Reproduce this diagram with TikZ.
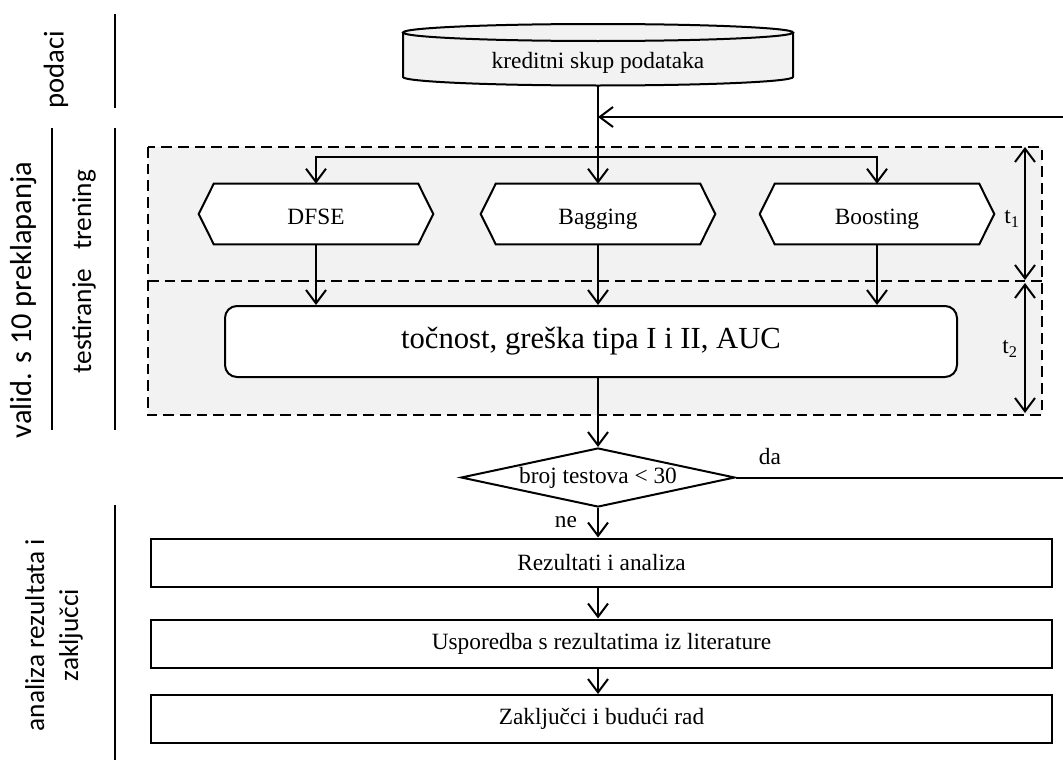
\documentclass[tikz,border=0pt]{standalone}
\usepackage{fontspec}
\setmainfont{Liberation Serif}
\newfontfamily\sidefont{Carlito}
\usetikzlibrary{arrows.meta,shapes.geometric}
\definecolor{bgg}{RGB}{242,242,242}
\pgfdeclarelayer{back}
\pgfdeclarelayer{bg}
\pgfsetlayers{back,bg,main}
\begin{document}
\begin{tikzpicture}[x=0.75pt,y=-0.75pt,
  every node/.style={inner sep=0pt, font=\fontsize{17.5}{21}\selectfont},
  ln/.style={line width=1.5pt},
  arr/.style={ln,-{Straight Barb[length=10pt,width=15pt]}},
  darr/.style={ln,{Straight Barb[length=10pt,width=15pt]}-{Straight Barb[length=10pt,width=15pt]}},
  dsh/.style={ln, dash pattern=on 8pt off 4.5pt},
  side/.style={font=\sidefont\fontsize{21}{25.5}\selectfont, rotate=90, align=center},
  low/.style={text height=17pt, text depth=2pt},
  hexn/.style={low, minimum width=175.5pt, minimum height=45pt},
  hexl/.style={ln, fill=white, line join=miter},
  box/.style={draw, ln, fill=white, minimum width=675.75pt, minimum height=36pt},
]
\useasboundingbox (0,0) rectangle (1063,760);
\clip (0,0) rectangle (1063,760);

% side labels
\node[side, font=\sidefont\fontsize{21.5}{26}\selectfont] (podaci) at (56,70) {podaci};
\node[side, font=\sidefont\fontsize{22.8}{27}\selectfont] (valid) at (24,300) {valid. s 10 preklapanja};
\node[side, font=\sidefont\fontsize{20.5}{25}\selectfont] (trening) at (84,210) {trening};
\node[side, font=\sidefont\fontsize{20.5}{25}\selectfont] (testiranje) at (84,321) {testiranje};
\node[side, font=\sidefont\fontsize{20.5}{25.5}\selectfont] (analiza) at (54,635) {analiza rezultata i\\zaključci};
\draw[ln] (115,14) -- (115,108);
\draw[ln] (52,128) -- (52,430);
\draw[ln] (115,128) -- (115,430);
\draw[ln] (115,505) -- (115,760);

% gray frame
\begin{pgfonlayer}{back}
\fill[bgg] (148,147) rectangle (1042,415);
\draw[dsh] (148,147) rectangle (1042,415);
\draw[dsh] (148,281) -- (1042,281);
\end{pgfonlayer}

% cylinder
\node[low, minimum width=292.5pt, minimum height=41.25pt] (cyl) at (598,58) {kreditni skup podataka};
\begin{pgfonlayer}{bg}
\fill[bgg] (403,32.5) -- (403,77) arc[start angle=180,end angle=360,x radius=146.25pt,y radius=6.375pt] -- (793,32.5) -- cycle;
\draw[ln] (403,32.5) -- (403,77) arc[start angle=180,end angle=360,x radius=146.25pt,y radius=6.375pt] -- (793,32.5);
\draw[ln, fill=bgg] (598,32.5) ellipse [x radius=146.25pt, y radius=6.375pt];
\end{pgfonlayer}

% hexagons
\node[hexn] (dfse) at (316,214) {DFSE};
\node[hexn] (bag) at (598,214) {Bagging};
\node[hexn] (boost) at (877,214) {Boosting};
\begin{pgfonlayer}{bg}
\foreach \n in {dfse,bag,boost}{
  \draw[hexl] (\n.west) -- ([xshift=11.25pt]\n.north west) -- ([xshift=-11.25pt]\n.north east)
    -- (\n.east) -- ([xshift=-11.25pt]\n.south east) -- ([xshift=11.25pt]\n.south west) -- cycle;
}
\end{pgfonlayer}

% results box
\node[draw, ln, fill=white, rounded corners=9pt, minimum width=549pt, minimum height=53.25pt,
      font=\fontsize{23}{27}\selectfont] (acc) at (591,341.5) {točnost, greška tipa I i II, AUC};

% t arrows
\coordinate (t1a) at (1025,147);
\coordinate (t1b) at (1025,280);
\coordinate (t2a) at (1025,283);
\coordinate (t2b) at (1025,413);
\draw[darr] (t1a) -- (t1b);
\draw[darr] (t2a) -- (t2b);
\node (t1) at (1012,219) {t\textsubscript{1}};
\node (t2) at (1010,349) {t\textsubscript{2}};

% decision
\node[diamond, draw, ln, fill=white, minimum width=205.5pt, minimum height=44.25pt, aspect=4.6] (dia) at (598,477.5) {broj testova < 30};
\node (da) at (770,457) {da};
\node (ne) at (566,522) {ne};

% final boxes
\node[box] (b1) at (601.5,562.5) {Rezultati i analiza};
\node[box] (b2) at (601.5,643.5) {Usporedba s rezultatima iz literature};
\node[box] (b3) at (601.5,719) {Zaključci i budući rad};

% connectors
\coordinate (bus) at (598,157);
\draw[arr] (cyl.south) -- (bag.north);
\draw[arr] (bus) -| (dfse.north);
\draw[arr] (bus) -| (boost.north);
\draw[arr] (dfse.south) -- (dfse.south |- acc.north);
\draw[arr] (bag.south) -- (bag.south |- acc.north);
\draw[arr] (boost.south) -- (boost.south |- acc.north);
\draw[arr] (acc.south -| dia) -- (dia.north);
\draw[arr] (dia.south) -- (dia.south |- b1.north);
\draw[arr] (b1.south -| dia) -- (b2.north -| dia);
\draw[arr] (b2.south -| dia) -- (b3.north -| dia);
\coordinate (fb) at (1075,117);
\draw[arr] (dia.east) -- (dia.east -| fb) -- (fb) -- (fb -| cyl);
\end{tikzpicture}
\end{document}
